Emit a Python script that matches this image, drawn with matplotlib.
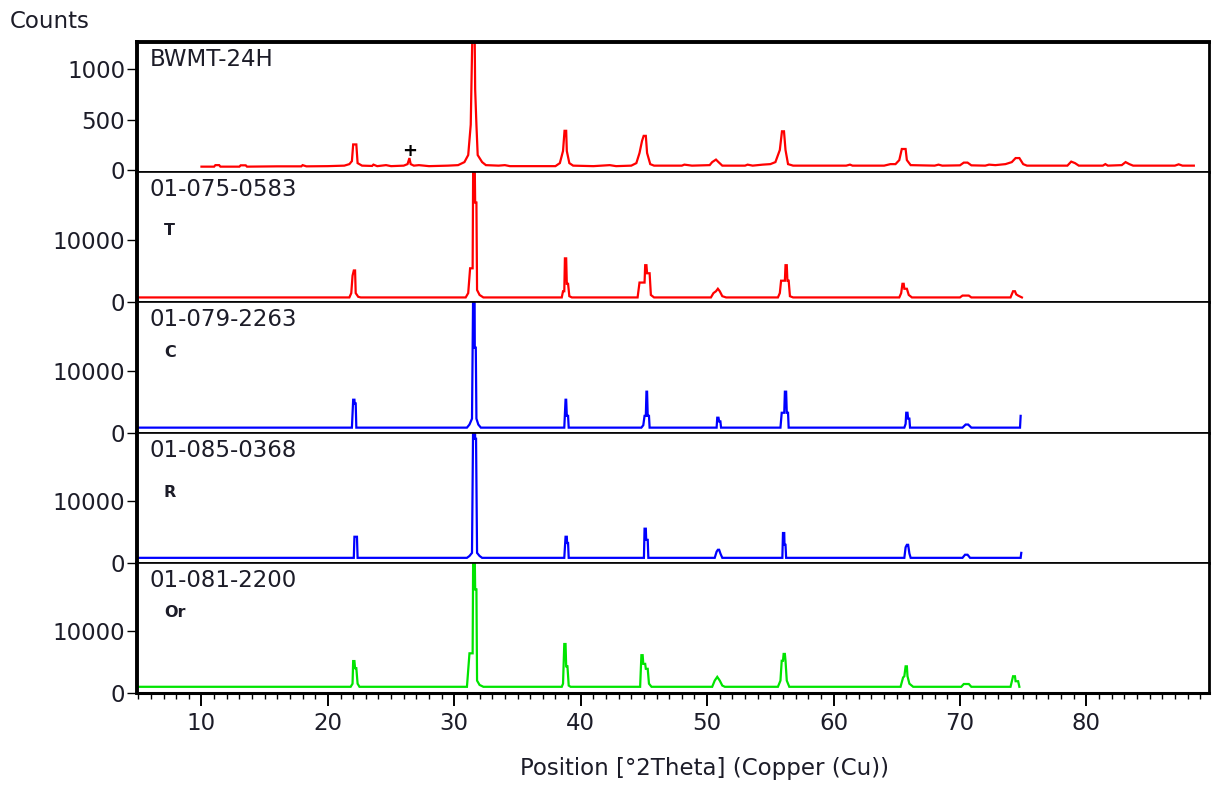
import numpy as np
import matplotlib
matplotlib.use("Agg")
import matplotlib.pyplot as plt
from matplotlib.ticker import MultipleLocator

plt.rcParams['font.family'] = ['DejaVu Sans']

# measured pattern BWMT-24H (2theta, counts)
bwmt_pts = [(10.0, 35), (11.0, 35), (11.1, 50), (11.4, 50), (11.5, 35),
            (13.0, 35), (13.1, 48), (13.5, 48), (13.6, 35),
            (16.0, 38), (17.9, 38), (18.0, 50), (18.3, 38),
            (20.0, 40), (21.3, 45), (21.7, 60), (21.9, 90), (22.0, 255), (22.25, 255), (22.35, 70), (22.7, 45),
            (23.5, 42), (23.6, 55), (23.9, 40), (24.6, 50), (25.0, 40), (26.0, 45), (26.3, 60),
            (26.45, 120), (26.55, 60), (26.8, 45), (27.2, 50), (28.0, 40), (29.5, 45), (30.3, 50),
            (30.8, 80), (31.1, 150), (31.3, 450), (31.45, 1500), (31.6, 1500), (31.65, 800), (31.75, 450),
            (31.85, 150), (32.2, 80), (32.5, 50), (33.5, 45), (34.0, 50), (34.4, 40),
            (38.0, 40), (38.35, 70), (38.6, 190), (38.72, 390), (38.85, 390), (38.9, 190), (39.1, 70), (39.4, 45),
            (41.0, 40), (42.3, 50), (42.8, 40),
            (44.0, 45), (44.4, 70), (44.65, 170), (44.85, 290), (44.98, 340), (45.15, 340), (45.25, 170),
            (45.5, 60), (45.8, 45), (48.0, 45), (48.2, 55), (48.8, 45),
            (50.2, 50), (50.4, 80), (50.7, 105), (50.9, 80), (51.2, 45), (53.0, 45), (53.2, 55), (53.6, 45),
            (54.4, 55), (55.0, 60), (55.4, 80), (55.75, 200), (55.92, 385), (56.08, 385), (56.2, 200),
            (56.4, 60), (56.8, 45), (61.0, 45), (61.3, 55), (61.5, 45),
            (64.0, 45), (64.5, 60), (64.9, 60), (65.2, 100), (65.4, 210), (65.7, 210), (65.8, 100), (66.1, 50),
            (68.0, 45), (68.3, 55), (68.6, 45), (70.0, 48), (70.3, 75), (70.6, 75), (70.9, 48),
            (72.0, 45), (72.3, 55), (72.8, 50), (73.6, 60), (74.1, 80), (74.4, 120), (74.7, 120),
            (75.0, 60), (75.3, 45), (78.5, 45), (78.8, 85), (79.1, 70), (79.4, 45),
            (81.3, 45), (81.5, 60), (81.7, 45), (82.8, 50), (83.1, 80), (83.4, 60), (83.7, 45),
            (87.0, 45), (87.3, 58), (87.6, 45), (88.5, 45)]

# reference pattern 01-075-0583 (T)
t_pts = [(5.0, 800), (21.7, 800), (21.85, 1500), (21.95, 4300), (22.05, 5150), (22.15, 5150),
         (22.2, 1500), (22.4, 900), (22.6, 800),
         (30.9, 800), (31.1, 1500), (31.25, 5500), (31.45, 5500), (31.5, 25000), (31.6, 25000),
         (31.65, 16100), (31.75, 16100), (31.8, 2000), (32.0, 1200), (32.3, 800),
         (38.5, 800), (38.6, 1800), (38.7, 1800), (38.75, 7100), (38.85, 7100), (38.9, 3000),
         (39.0, 3000), (39.1, 1000), (39.3, 800),
         (44.5, 800), (44.65, 3200), (45.05, 3200), (45.1, 6000), (45.2, 6000), (45.25, 4700),
         (45.45, 4700), (45.55, 1200), (45.8, 800),
         (50.3, 800), (50.5, 1500), (50.7, 1800), (50.85, 2200), (51.0, 1800), (51.2, 1000), (51.5, 800),
         (55.6, 800), (55.75, 1500), (55.85, 3500), (56.15, 3500), (56.2, 6000), (56.3, 6000),
         (56.35, 3500), (56.45, 3500), (56.55, 1000), (56.8, 800),
         (65.2, 800), (65.35, 1500), (65.45, 3000), (65.55, 3000), (65.6, 2200), (65.8, 2200),
         (65.95, 1200), (66.2, 800),
         (70.0, 800), (70.2, 1100), (70.7, 1100), (70.9, 800),
         (74.0, 800), (74.2, 1800), (74.35, 1800), (74.45, 1300), (74.6, 1100), (74.9, 800)]

# reference pattern 01-079-2263 (C)
c_pts = [(5.0, 800), (21.9, 800), (22.0, 5300), (22.1, 5300), (22.12, 4700), (22.2, 4700), (22.25, 800),
         (31.0, 800), (31.2, 1300), (31.4, 2250), (31.5, 25000), (31.6, 25000), (31.62, 13700),
         (31.7, 13700), (31.75, 2250), (31.9, 1300), (32.1, 800),
         (38.7, 800), (38.8, 5300), (38.85, 5300), (38.9, 2700), (39.0, 2700), (39.05, 800),
         (44.8, 800), (44.95, 1200), (45.05, 2700), (45.15, 2700), (45.2, 6600), (45.25, 6600),
         (45.3, 2700), (45.4, 2700), (45.45, 800),
         (50.75, 800), (50.8, 2400), (50.9, 2400), (50.95, 1800), (51.05, 1800), (51.1, 800),
         (55.8, 800), (55.9, 3200), (56.1, 3200), (56.15, 6600), (56.25, 6600), (56.3, 3200),
         (56.4, 3200), (56.45, 800),
         (65.6, 800), (65.7, 1400), (65.75, 3200), (65.85, 3200), (65.9, 2250), (66.0, 2250), (66.05, 800),
         (70.2, 800), (70.45, 1300), (70.65, 1300), (70.9, 800),
         (74.75, 800), (74.8, 2700)]

# reference pattern 01-085-0368 (R)
r_pts = [(5.0, 800), (22.05, 800), (22.1, 4200), (22.3, 4200), (22.35, 800),
         (31.0, 800), (31.2, 1100), (31.4, 1600), (31.5, 25000), (31.6, 25000), (31.65, 20000),
         (31.72, 20000), (31.8, 1600), (32.0, 1100), (32.2, 800),
         (38.7, 800), (38.8, 4200), (38.9, 4200), (38.92, 3200), (39.0, 3200), (39.05, 800),
         (45.0, 800), (45.05, 5500), (45.15, 5500), (45.18, 3700), (45.3, 3700), (45.35, 800),
         (50.6, 800), (50.75, 1800), (50.85, 2100), (50.95, 2100), (51.05, 1500), (51.2, 800),
         (55.95, 800), (56.0, 4800), (56.1, 4800), (56.12, 2900), (56.2, 2900), (56.25, 800),
         (65.6, 800), (65.7, 2500), (65.8, 2900), (65.9, 2900), (66.0, 1500), (66.1, 800),
         (70.2, 800), (70.4, 1300), (70.6, 1300), (70.8, 800),
         (74.8, 800), (74.85, 1600)]

# reference pattern 01-081-2200 (Or)
or_pts = [(5.0, 1000), (21.8, 1000), (21.95, 1500), (22.0, 5150), (22.1, 5150), (22.15, 4000),
          (22.25, 4000), (22.35, 1500), (22.5, 1000),
          (31.0, 1000), (31.2, 6400), (31.45, 6400), (31.5, 25000), (31.6, 25000), (31.65, 16700),
          (31.75, 16700), (31.8, 2000), (32.0, 1300), (32.3, 1000),
          (38.5, 1000), (38.6, 1500), (38.7, 7900), (38.8, 7900), (38.85, 4300), (38.95, 4300),
          (39.05, 1200), (39.2, 1000),
          (44.7, 1000), (44.8, 6100), (44.9, 6100), (44.95, 4700), (45.1, 4700), (45.15, 3900),
          (45.3, 3900), (45.4, 1500), (45.6, 1000),
          (50.4, 1000), (50.6, 2000), (50.8, 2600), (51.0, 2000), (51.2, 1200), (51.4, 1000),
          (55.6, 1000), (55.8, 2000), (55.9, 5200), (56.0, 5200), (56.05, 6300), (56.15, 6300),
          (56.2, 5200), (56.3, 2000), (56.5, 1000),
          (65.3, 1000), (65.5, 2500), (65.6, 2700), (65.7, 4300), (65.8, 4300), (65.85, 2700),
          (66.0, 1500), (66.3, 1000),
          (70.1, 1000), (70.3, 1450), (70.7, 1450), (70.9, 1000),
          (74.0, 1000), (74.2, 2700), (74.35, 2700), (74.4, 1900), (74.6, 1900), (74.7, 1000)]

panel_names = ["BWMT-24H", "01-075-0583", "01-079-2263", "01-085-0368", "01-081-2200"]
phase_tags = [None, "T", "C", "R", "Or"]
tag_heights = [None, 0.555, 0.615, 0.54, 0.615]
series = [bwmt_pts, t_pts, c_pts, r_pts, or_pts]
colors = ["#ff0000", "#ff0000", "#0000ff", "#0000ff", "#00e400"]
y_ticks = [[0, 500, 1000], [0, 10000], [0, 10000], [0, 10000], [0, 10000]]
y_limits = [(-20, 1270), (0, 21000), (0, 21000), (0, 21000), (0, 21000)]

txt_col = "#1c1c28"
fs = 16.5

fig = plt.figure(figsize=(12.14, 7.85), dpi=100)
fig.subplots_adjust(left=137/1214, right=1209/1214, top=1-42/785, bottom=1-693/785, hspace=0)
axes = fig.subplots(5, 1, sharex=True)

for i, ax in enumerate(axes):
    x, y = np.array(series[i], dtype=float).T
    ax.plot(x, y, color=colors[i], lw=1.6, solid_joinstyle='miter')
    ax.set_xlim(4.9, 89.7)
    ax.set_ylim(*y_limits[i])
    ax.set_yticks(y_ticks[i])
    ax.tick_params(axis='y', direction='out', length=7.5, width=1.0,
                   labelsize=fs, labelcolor=txt_col, pad=1)
    ax.tick_params(axis='x', which='both', bottom=(i == 4), labelbottom=(i == 4))
    for side in ax.spines:
        ax.spines[side].set_color('black')
        ax.spines[side].set_linewidth(1.2)
    ax.spines['left'].set_linewidth(2.8)
    ax.spines['right'].set_linewidth(2.0)
    ax.text(0.012, 0.865, panel_names[i], transform=ax.transAxes, ha='left', va='center',
            fontsize=fs, color=txt_col)
    if phase_tags[i]:
        ax.text(0.025, tag_heights[i], phase_tags[i], transform=ax.transAxes, ha='left',
                va='center', fontsize=11.5, fontweight='bold', color=txt_col)

axes[0].spines['top'].set_linewidth(2.8)
axes[-1].spines['bottom'].set_linewidth(2.2)

# unassigned reflection in the measured pattern
axes[0].text(26.5, 190, "+", ha='center', va='center', fontsize=13, fontweight='bold', color='black')

bottom = axes[-1]
bottom.xaxis.set_major_locator(MultipleLocator(10))
bottom.xaxis.set_minor_locator(MultipleLocator(1))
bottom.set_xticks(range(10, 90, 10))
bottom.tick_params(axis='x', which='major', direction='out', length=9.5, width=1.4,
                   labelsize=fs, labelcolor=txt_col, pad=4)
bottom.tick_params(axis='x', which='minor', direction='out', length=4.5, width=1.0)

fig.text(10/1214, 1-22/785, "Counts", ha='left', va='center', fontsize=fs, color=txt_col)
fig.text(705/1214, 1-768/785, "Position [°2Theta] (Copper (Cu))", ha='center', va='center',
         fontsize=fs, color=txt_col)

fig.savefig("out.png", dpi=100)
